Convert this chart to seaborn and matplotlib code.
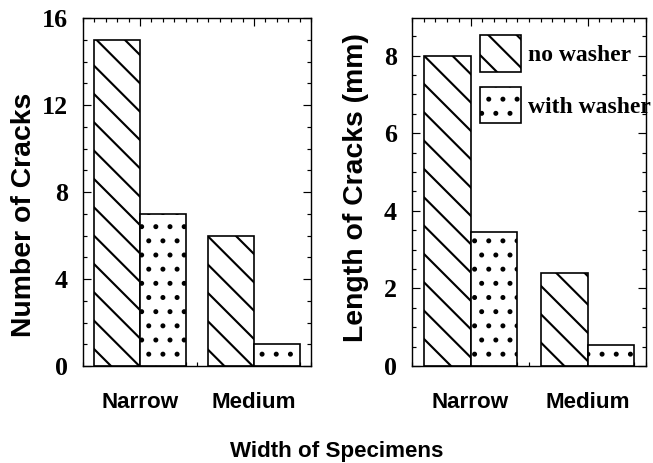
import matplotlib
matplotlib.use("Agg")
import matplotlib.pyplot as plt
from matplotlib.patches import Patch
from matplotlib.ticker import MultipleLocator
import seaborn as sns
import pandas as pd

# ---- data ----
categories = ["Narrow", "Medium"]
series = ["no washer", "with washer"]
num_no_washer = [15, 6]
num_with_washer = [7, 1]
len_no_washer = [8.0, 2.4]
len_with_washer = [3.45, 0.55]
left_yticks = [0, 4, 8, 12, 16]
right_yticks = [0, 2, 4, 6, 8]

DPI = 170
sns.set_theme(style="white")
plt.rcParams["hatch.linewidth"] = 0.9
plt.rcParams["font.family"] = ["Liberation Sans", "DejaVu Sans"]
for k in ["text.color", "axes.labelcolor", "xtick.color", "ytick.color",
          "axes.edgecolor"]:
    plt.rcParams[k] = "black"

def long_df(a, b):
    rows = []
    for c, v in zip(categories, a):
        rows.append({"width": c, "washer": series[0], "value": v})
    for c, v in zip(categories, b):
        rows.append({"width": c, "washer": series[1], "value": v})
    return pd.DataFrame(rows)

df_num = long_df(num_no_washer, num_with_washer)
df_len = long_df(len_no_washer, len_with_washer)

fig = plt.figure(figsize=(653 / DPI, 463 / DPI), dpi=DPI)
W, H = 653, 463
bottom = 1 - 366 / H
height = (366 - 18) / H
ax1 = fig.add_axes([83 / W, bottom, (311 - 83) / W, height])
ax2 = fig.add_axes([412 / W, bottom, (646 - 412) / W, height])

hatches = ["\\\\", ".."]

for ax, df, ymax, yt, minor, ylabel, lx, ly in [
    (ax1, df_num, 16, left_yticks, 1, "Number of Cracks", -0.259, 0.434),
    (ax2, df_len, 8.97, right_yticks, 0.5, "Length of Cracks (mm)", -0.239, 0.514),
]:
    sns.barplot(data=df, x="width", y="value", hue="washer", order=categories,
                hue_order=series, palette=["white", "white"], saturation=1,
                edgecolor="black", linewidth=0.7, width=0.8, errorbar=None,
                legend=False, ax=ax)
    for cont, h in zip(ax.containers, hatches):
        for bar in cont:
            bar.set_hatch(h)
            bar.set_edgecolor("black")
    ax.set_xlim(-0.5, 1.5)
    ax.set_ylim(0, ymax)
    ax.set_yticks(yt)
    ax.yaxis.set_minor_locator(MultipleLocator(minor))
    ax.xaxis.set_minor_locator(MultipleLocator(0.1))
    ax.tick_params(axis="both", which="both", direction="in", top=True, right=True,
                   bottom=True, left=True, color="black", labelcolor="black",
                   width=0.5)
    ax.tick_params(axis="both", which="major", length=3.5)
    ax.tick_params(axis="both", which="minor", length=1.8)
    ax.tick_params(axis="y", which="major", pad=6.5)
    ax.tick_params(axis="x", which="major", pad=11)
    for lab in ax.get_yticklabels():
        lab.set_fontfamily(["Liberation Serif", "DejaVu Serif"])
        lab.set_fontweight("bold")
        lab.set_fontsize(11)
    for lab in ax.get_xticklabels():
        lab.set_fontfamily(["Liberation Sans", "DejaVu Sans"])
        lab.set_fontweight("bold")
        lab.set_fontsize(9.5)
    for s in ax.spines.values():
        s.set_color("black")
        s.set_linewidth(0.6)
    ax.set_xlabel("")
    ax.set_ylabel(ylabel, fontsize=12, fontweight="bold", va="center",
                  color="black")
    ax.yaxis.set_label_coords(lx, ly)

handles = [Patch(facecolor="white", edgecolor="black", hatch=h, linewidth=0.7)
           for h in hatches]
leg = ax2.legend(handles, series, loc="upper left", bbox_to_anchor=(0.29, 0.951),
                 frameon=False, borderpad=0, borderaxespad=0, handlelength=1.75,
                 handleheight=2.0, labelspacing=0.65, handletextpad=0.3,
                 prop={"family": ["Liberation Serif", "DejaVu Serif"],
                       "weight": "bold", "size": 10})
for t in leg.get_texts():
    t.set_color("black")

fig.text(0.515, 1 - 452 / H, "Width of Specimens", ha="center", va="center",
         fontsize=9.5, fontweight="bold", color="black")

fig.savefig("out.png", dpi=DPI, facecolor="white")
